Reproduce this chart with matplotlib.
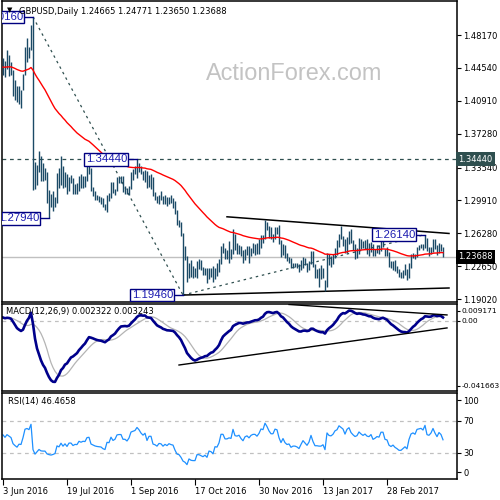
import numpy as np
import pandas as pd
import matplotlib.pyplot as plt
from matplotlib.transforms import blended_transform_factory

# GBPUSD daily bars, 3 Jun 2016 .. 7 Apr 2017 (bar index 0..220)
highs = [
    1.4560, 1.4530, 1.4650, 1.4600, 1.4520, 1.4430, 1.4320, 1.4250, 1.4250, 1.4210,
    1.4390, 1.4680, 1.4780, 1.4690, 1.4930, 1.5016, 1.3420, 1.3380, 1.3535, 1.3480,
    1.3400, 1.3350, 1.3300, 1.3110, 1.3060, 1.3100, 1.3030, 1.3290, 1.3350, 1.3480,
    1.3370, 1.3300, 1.3280, 1.3250, 1.3270, 1.3240, 1.3170, 1.3180, 1.3260, 1.3280,
    1.3260, 1.3260, 1.3370, 1.3400, 1.3350, 1.3140, 1.3090, 1.3050, 1.3040, 1.3030,
    1.3020, 1.2950, 1.3050, 1.3070, 1.3190, 1.3190, 1.3120, 1.3250, 1.3250, 1.3260,
    1.3260, 1.3150, 1.3130, 1.3150, 1.3300, 1.3340, 1.3370, 1.3444, 1.3400, 1.3370,
    1.3320, 1.3330, 1.3320, 1.3270, 1.3280, 1.3250, 1.3080, 1.3040, 1.3050, 1.3090,
    1.3040, 1.3050, 1.3030, 1.3030, 1.3050, 1.3020, 1.2980, 1.2880, 1.2780, 1.2750,
    1.2630, 1.2490, 1.2380, 1.2300, 1.2330, 1.2270, 1.2250, 1.2320, 1.2340, 1.2330,
    1.2260, 1.2250, 1.2240, 1.2250, 1.2240, 1.2270, 1.2250, 1.2300, 1.2340, 1.2490,
    1.2520, 1.2460, 1.2440, 1.2540, 1.2450, 1.2670, 1.2620, 1.2520, 1.2500, 1.2490,
    1.2440, 1.2450, 1.2490, 1.2490, 1.2470, 1.2520, 1.2510, 1.2520, 1.2560, 1.2610,
    1.2610, 1.2775, 1.2750, 1.2710, 1.2700, 1.2620, 1.2700, 1.2700, 1.2720, 1.2550,
    1.2510, 1.2500, 1.2410, 1.2370, 1.2360, 1.2300, 1.2300, 1.2300, 1.2290, 1.2330,
    1.2370, 1.2350, 1.2300, 1.2320, 1.2430, 1.2430, 1.2290, 1.2230, 1.2240, 1.2280,
    1.2240, 1.2110, 1.2415, 1.2400, 1.2380, 1.2400, 1.2470, 1.2550, 1.2620, 1.2706,
    1.2600, 1.2560, 1.2590, 1.2650, 1.2670, 1.2550, 1.2510, 1.2470, 1.2580, 1.2570,
    1.2540, 1.2550, 1.2560, 1.2520, 1.2530, 1.2510, 1.2450, 1.2500, 1.2500, 1.2570,
    1.2570, 1.2450, 1.2480, 1.2420, 1.2320, 1.2320, 1.2330, 1.2270, 1.2230, 1.2200,
    1.2220, 1.2290, 1.2230, 1.2300, 1.2400, 1.2410, 1.2400, 1.2480, 1.2500, 1.2510,
    1.2510, 1.2614, 1.2580, 1.2480, 1.2480, 1.2560, 1.2570, 1.2500, 1.2520, 1.2510,
    1.24771,
]
lows = [
    1.4380, 1.4350, 1.4440, 1.4360, 1.4380, 1.4140, 1.4100, 1.4080, 1.4060, 1.4010,
    1.4210, 1.4380, 1.4520, 1.4560, 1.4650, 1.3110, 1.3120, 1.3160, 1.3300, 1.3210,
    1.3200, 1.3220, 1.2960, 1.2794, 1.2920, 1.2870, 1.2920, 1.2960, 1.3130, 1.3160,
    1.3130, 1.3140, 1.3060, 1.3090, 1.3180, 1.3060, 1.3060, 1.3060, 1.3090, 1.3130,
    1.3130, 1.3140, 1.3200, 1.3280, 1.3090, 1.3040, 1.2990, 1.2990, 1.2970, 1.2950,
    1.2920, 1.2880, 1.2865, 1.2980, 1.3020, 1.3070, 1.3050, 1.3100, 1.3180, 1.3180,
    1.3080, 1.3060, 1.3060, 1.3050, 1.3120, 1.3220, 1.3280, 1.3240, 1.3300, 1.3280,
    1.3220, 1.3190, 1.3130, 1.3140, 1.3120, 1.3040, 1.3000, 1.2960, 1.2950, 1.2990,
    1.2950, 1.2950, 1.2930, 1.2950, 1.2960, 1.2910, 1.2840, 1.2720, 1.2700, 1.2600,
    1.1946, 1.2330, 1.2086, 1.2130, 1.2140, 1.2130, 1.2150, 1.2130, 1.2230, 1.2220,
    1.2170, 1.2170, 1.2080, 1.2120, 1.2150, 1.2090, 1.2120, 1.2160, 1.2200, 1.2290,
    1.2410, 1.2340, 1.2340, 1.2300, 1.2340, 1.2400, 1.2440, 1.2400, 1.2400, 1.2380,
    1.2300, 1.2330, 1.2390, 1.2300, 1.2380, 1.2410, 1.2390, 1.2400, 1.2400, 1.2470,
    1.2520, 1.2560, 1.2660, 1.2580, 1.2560, 1.2530, 1.2560, 1.2620, 1.2510, 1.2370,
    1.2390, 1.2360, 1.2320, 1.2300, 1.2250, 1.2250, 1.2260, 1.2240, 1.2200, 1.2220,
    1.2250, 1.2280, 1.2200, 1.2220, 1.2290, 1.2260, 1.2130, 1.2130, 1.2040, 1.2120,
    1.2130, 1.1986, 1.2040, 1.2280, 1.2260, 1.2290, 1.2350, 1.2390, 1.2480, 1.2570,
    1.2490, 1.2410, 1.2410, 1.2510, 1.2520, 1.2440, 1.2340, 1.2350, 1.2400, 1.2450,
    1.2460, 1.2450, 1.2400, 1.2380, 1.2420, 1.2380, 1.2380, 1.2410, 1.2400, 1.2430,
    1.2480, 1.2380, 1.2380, 1.2260, 1.2250, 1.2220, 1.2210, 1.2190, 1.2140, 1.2130,
    1.2130, 1.2170, 1.2109, 1.2130, 1.2250, 1.2350, 1.2340, 1.2370, 1.2440, 1.2460,
    1.2440, 1.2470, 1.2430, 1.2380, 1.2400, 1.2420, 1.2450, 1.2390, 1.2410, 1.2430,
    1.23650,
]
closes = [
    1.4520, 1.4450, 1.4530, 1.4490, 1.4450, 1.4260, 1.4190, 1.4130, 1.4200, 1.4190,
    1.4360, 1.4650, 1.4680, 1.4650, 1.4880, 1.3680, 1.3220, 1.3330, 1.3440, 1.3310,
    1.3290, 1.3290, 1.3040, 1.2970, 1.2930, 1.2950, 1.2980, 1.3250, 1.3190, 1.3330,
    1.3160, 1.3250, 1.3100, 1.3230, 1.3230, 1.3100, 1.3140, 1.3130, 1.3240, 1.3200,
    1.3230, 1.3220, 1.3340, 1.3350, 1.3110, 1.3070, 1.3030, 1.3010, 1.3000, 1.2990,
    1.2930, 1.2900, 1.3050, 1.3040, 1.3170, 1.3080, 1.3110, 1.3220, 1.3230, 1.3230,
    1.3120, 1.3120, 1.3080, 1.3140, 1.3280, 1.3300, 1.3320, 1.3400, 1.3360, 1.3300,
    1.3260, 1.3300, 1.3150, 1.3240, 1.3240, 1.3050, 1.3030, 1.2990, 1.3040, 1.3030,
    1.2970, 1.3000, 1.2970, 1.3000, 1.2980, 1.2970, 1.2850, 1.2730, 1.2710, 1.2610,
    1.2430, 1.2360, 1.2190, 1.2280, 1.2200, 1.2180, 1.2180, 1.2270, 1.2270, 1.2230,
    1.2190, 1.2210, 1.2130, 1.2220, 1.2200, 1.2130, 1.2240, 1.2230, 1.2300, 1.2480,
    1.2480, 1.2380, 1.2380, 1.2400, 1.2390, 1.2590, 1.2460, 1.2450, 1.2470, 1.2400,
    1.2350, 1.2430, 1.2450, 1.2410, 1.2460, 1.2480, 1.2480, 1.2450, 1.2500, 1.2590,
    1.2580, 1.2740, 1.2690, 1.2620, 1.2570, 1.2570, 1.2670, 1.2660, 1.2520, 1.2410,
    1.2490, 1.2390, 1.2340, 1.2350, 1.2260, 1.2280, 1.2280, 1.2260, 1.2220, 1.2280,
    1.2340, 1.2290, 1.2240, 1.2290, 1.2410, 1.2280, 1.2170, 1.2170, 1.2160, 1.2160,
    1.2180, 1.2060, 1.2400, 1.2340, 1.2330, 1.2370, 1.2460, 1.2490, 1.2610, 1.2580,
    1.2550, 1.2450, 1.2580, 1.2630, 1.2530, 1.2480, 1.2440, 1.2460, 1.2550, 1.2510,
    1.2480, 1.2510, 1.2470, 1.2460, 1.2500, 1.2410, 1.2430, 1.2460, 1.2450, 1.2540,
    1.2540, 1.2420, 1.2410, 1.2300, 1.2270, 1.2290, 1.2240, 1.2210, 1.2170, 1.2170,
    1.2190, 1.2210, 1.2170, 1.2290, 1.2380, 1.2400, 1.2380, 1.2470, 1.2480, 1.2490,
    1.2470, 1.2560, 1.2430, 1.2420, 1.2460, 1.2550, 1.2480, 1.2420, 1.2500, 1.2466,
    1.23688,
]

date_ticks = [0, 32, 64, 96, 128, 160, 192]
date_labels = ['3 Jun 2016', '19 Jul 2016', '1 Sep 2016', '17 Oct 2016',
               '30 Nov 2016', '13 Jan 2017', '28 Feb 2017']
price_ticks = [1.48170, 1.44540, 1.40910, 1.37280, 1.33540, 1.29910, 1.26280, 1.22650, 1.19020]

# value boxes drawn on the chart: (bar index, price)
marks = [(15, 1.50160), (23, 1.27940), (67, 1.34440), (90, 1.19460), (211, 1.26140)]
resistance = 1.34440
last_price = 1.23688

# trend lines: ((x0, y0), (x1, y1))
fib_lines = [((15, 1.5016), (90, 1.1946)), ((90, 1.1946), (211, 1.2614))]
channel_lines = [((112, 1.2810), (223, 1.2626)), ((90, 1.1946), (223, 1.2024))]
macd_lines = [((143, 0.0104), (222, 0.0038)), ((88, -0.0278), (222, -0.0044))]

# indicator seeds (state before the first visible bar)
ema55_seed = 1.4460
ema12_seed, ema26_seed = 1.4480, 1.4460
rsi_gain_seed, rsi_loss_seed = 0.0050, 0.0045


def ema(values, period, seed):
    k = 2.0 / (period + 1)
    out = []
    prev = seed
    for v in values:
        prev = prev + k * (v - prev)
        out.append(prev)
    return np.array(out)


def rsi(values, period, g0, l0):
    out = []
    prev = values[0]
    ag, al = g0, l0
    for v in values:
        d = v - prev
        prev = v
        ag = (ag * (period - 1) + max(d, 0)) / period
        al = (al * (period - 1) + max(-d, 0)) / period
        out.append(100 * ag / (ag + al))
    return np.array(out)


n = len(closes)
x = np.arange(n)
ma = ema(closes, 55, ema55_seed)
macd = ema(closes, 12, ema12_seed) - ema(closes, 26, ema26_seed)
signal = pd.Series(macd).rolling(9, min_periods=1).mean().values
rsi14 = rsi(closes, 14, rsi_gain_seed, rsi_loss_seed)

W = 500.0
fig = plt.figure(figsize=(5, 5), dpi=100)
ax1 = fig.add_axes([2 / W, 1 - 302 / W, 455 / W, 301 / W])
ax2 = fig.add_axes([2 / W, 1 - 391 / W, 455 / W, 87 / W])
ax3 = fig.add_axes([2 / W, 1 - 479 / W, 455 / W, 86 / W])

for ax in (ax1, ax2, ax3):
    ax.set_xlim(-0.5, 227)
    for s in ax.spines.values():
        s.set_linewidth(1.1)
    ax.yaxis.tick_right()
    ax.tick_params(axis='y', length=3, pad=1.5, labelsize=6, width=0.8)
    ax.tick_params(axis='x', bottom=False, labelbottom=False)

# ---- price panel
ax1.set_ylim(1.18693, 1.51924)
ax1.set_yticks(price_ticks)
ax1.set_yticklabels(['%.5f' % p for p in price_ticks])

ax1.axhline(last_price, color='#c0c0c0', lw=1, zorder=1)
ax1.axhline(resistance, color='#2f4f4f', lw=0.9, ls=(0, (3, 3)), zorder=1)
for (x0, y0), (x1, y1) in fib_lines:
    ax1.plot([x0, x1], [y0, y1], color='#2f4f4f', lw=0.9, ls=(0, (2, 3)), zorder=1)
for (x0, y0), (x1, y1) in channel_lines:
    ax1.plot([x0, x1], [y0, y1], color='black', lw=1.1, zorder=2)

ax1.vlines(x, lows, highs, color='#1b4a66', lw=1.0, zorder=3)
ax1.plot(x, ma, color='red', lw=1.0, zorder=4)

# boxes are clipped by the chart frame, as in the terminal
for xi, p in marks:
    ax1.plot([xi - 4.5, xi], [p, p], color='#000080', lw=1, zorder=5)
    ax1.text(xi - 5.0, p, '%.5f' % p, ha='right', va='center', fontsize=8.2,
             family='Liberation Sans', color='#1c1cb0', zorder=6, clip_on=True,
             bbox=dict(boxstyle='square,pad=0.12', fc='white', ec='#000080', lw=1))

tr = blended_transform_factory(ax1.transAxes, ax1.transData)
ax1.text(1.003, resistance, '%.5f' % resistance, transform=tr, ha='left', va='center',
         fontsize=6, color='white', zorder=7,
         bbox=dict(boxstyle='square,pad=0.3', fc='#2f4f4f', ec='none'))
ax1.text(1.003, last_price, '%.5f' % last_price, transform=tr, ha='left', va='center',
         fontsize=6, color='white', zorder=7,
         bbox=dict(boxstyle='square,pad=0.3', fc='black', ec='none'))

fig.text(7 / W, 1 - 10 / W, '\u25bc', fontsize=5, ha='left', va='center')
fig.text(19 / W, 1 - 11 / W, 'GBPUSD,Daily 1.24665 1.24771 1.23650 1.23688',
         fontsize=6, ha='left', va='center')
fig.text(294 / W, 1 - 74 / W, 'ActionForex.com', fontsize=16.9, family='Liberation Sans',
         color='#c3c3c3', ha='center', va='center')

# ---- MACD panel
ax2.set_ylim(-0.0442, 0.0107)
ax2.axhline(0, color='#c0c0c0', lw=0.9, ls=(0, (3, 3)))
ax2.plot(x, signal, color='#b4b4b4', lw=0.9)
ax2.plot(x, macd, color='#00008b', lw=1.9)
for (x0, y0), (x1, y1) in macd_lines:
    ax2.plot([x0, x1], [y0, y1], color='black', lw=1.0)
ax2.set_yticks([0.0063, 0.0, -0.0410])
ax2.set_yticklabels(['0.009171', '0.00', '-0.041663'])
ax2.tick_params(axis='y', length=2, pad=1, labelsize=5.4)
ax2.text(0.008, 0.91, 'MACD(12,26,9) 0.002322 0.003243', transform=ax2.transAxes,
         fontsize=6, ha='left', va='center')

# ---- RSI panel
ax3.set_ylim(-2.5, 105)
for lvl in (70, 30):
    ax3.axhline(lvl, color='#c0c0c0', lw=0.9, ls=(0, (3, 3)))
ax3.plot(x, rsi14, color='#1e90ff', lw=0.9)
ax3.set_yticks([96.25, 70, 30, 6.25])
ax3.set_yticklabels(['100', '70', '30', '0'])
ax3.text(0.013, 0.9, 'RSI(14) 46.4658', transform=ax3.transAxes,
         fontsize=6, ha='left', va='center')
ax3.tick_params(axis='x', bottom=True, labelbottom=True, length=4, pad=2, labelsize=6, width=0.8)
ax3.set_xticks(date_ticks)
ax3.set_xticklabels(date_labels, ha='left')

fig.savefig('out.png', dpi=100)
